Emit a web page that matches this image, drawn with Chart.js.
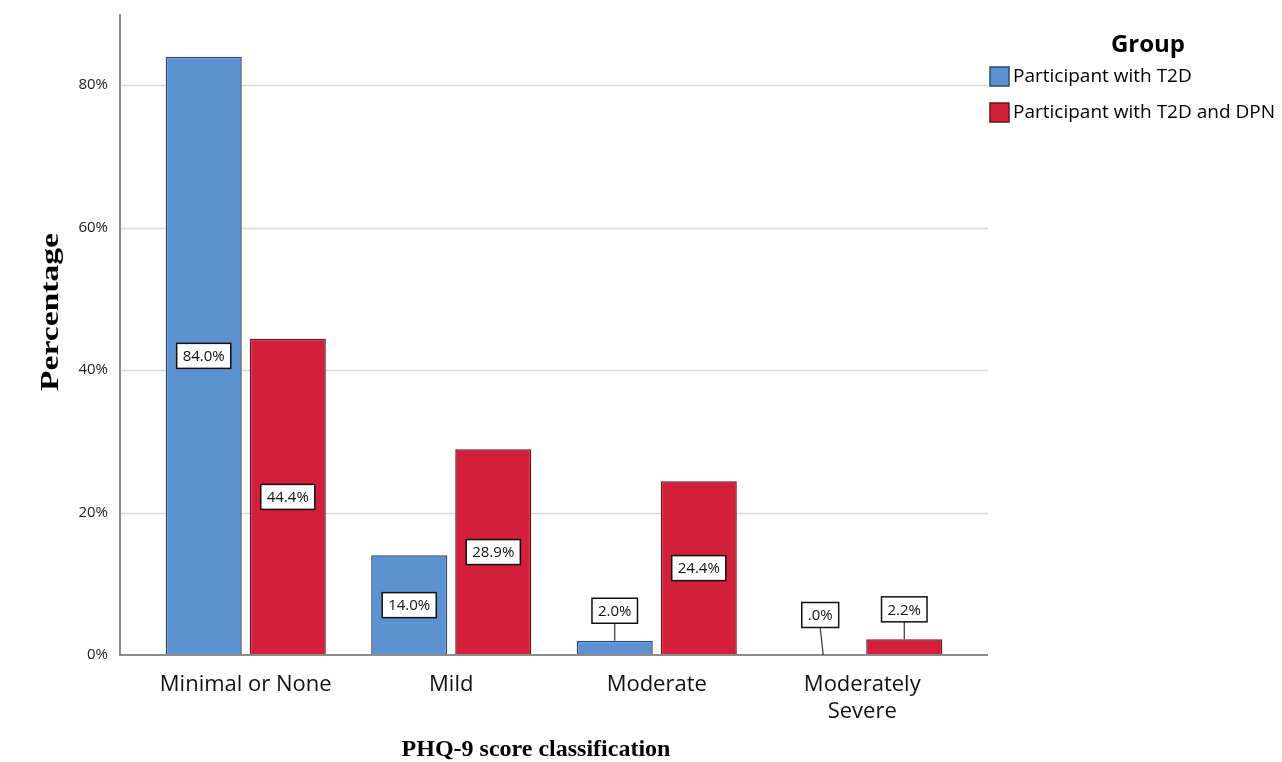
<!DOCTYPE html>
<html>
<head>
<meta charset="utf-8">
<script src="https://cdn.jsdelivr.net/npm/chart.js@4.4.1/dist/chart.umd.min.js"></script>
<style>
  html, body { margin: 0; padding: 0; background: #fff; }
  #wrap { width: 1282px; height: 762px; }
</style>
</head>
<body>
<div id="wrap"><canvas id="chart" width="1282" height="762"></canvas></div>
<script>
const categories = ['Minimal or None', 'Mild', 'Moderate', ['Moderately', 'Severe']];
const groupNames = ['Participant with T2D', 'Participant with T2D and DPN'];
const t2dValues = [84.0, 14.0, 2.0, 0.0];
const dpnValues = [44.4, 28.9, 24.4, 2.2];
const yTicks = [0, 20, 40, 60, 80];

const BLUE = '#5b92cf';
const BLUE_EDGE = '#2c4a70';
const RED = '#d31f3a';
const RED_EDGE = '#6e1222';
const AXIS = '#8c8c8c';
const GRID = '#d9d9d9';

function fmtPct(v) {
  let s = v.toFixed(1);
  if (s.startsWith('0')) s = s.slice(1);
  return s + '%';
}

// gridlines, axis lines, titles, legend and value boxes
const decor = {
  id: 'decor',
  beforeDatasetsDraw(chart) {
    const { ctx, scales: { y } } = chart;
    const x0 = 120, x1 = 988;
    ctx.save();
    ctx.strokeStyle = GRID;
    ctx.lineWidth = 1.5;
    yTicks.forEach(t => {
      if (t === 0) return;
      const py = Math.round(y.getPixelForValue(t)) + 0.5;
      ctx.beginPath();
      ctx.moveTo(x0, py);
      ctx.lineTo(x1, py);
      ctx.stroke();
    });
    ctx.restore();
  },
  afterDatasetsDraw(chart) {
    const { ctx, scales: { y } } = chart;
    const x0 = 120, x1 = 988;
    const base = y.getPixelForValue(0);
    ctx.save();
    ctx.strokeStyle = AXIS;
    ctx.lineWidth = 2;
    ctx.beginPath();
    ctx.moveTo(x0, y.getPixelForValue(y.max));
    ctx.lineTo(x0, base);
    ctx.lineTo(x1, base);
    ctx.stroke();

    // value boxes
    ctx.font = '15px "Open Sans", "Noto Sans", sans-serif';
    ctx.textAlign = 'center';
    ctx.textBaseline = 'middle';
    chart.data.datasets.forEach((ds, di) => {
      const meta = chart.getDatasetMeta(di);
      meta.data.forEach((bar, i) => {
        const txt = fmtPct(ds.data[i]);
        const w = ctx.measureText(txt).width + 12;
        const h = 25;
        const tall = (bar.base - bar.y) > 40;
        let cy, cx = bar.x;
        if (tall) {
          cy = (bar.y + bar.base) / 2;
        } else {
          cy = Math.min(bar.y - 30, base - 40);
          ctx.strokeStyle = '#333';
          ctx.lineWidth = 1.2;
          ctx.beginPath();
          ctx.moveTo(cx, cy + h / 2);
          ctx.lineTo(cx + (ds.data[i] === 0 ? 3 : 0), bar.y);
          ctx.stroke();
        }
        ctx.fillStyle = '#fff';
        ctx.fillRect(cx - w / 2, cy - h / 2, w, h);
        ctx.strokeStyle = '#111';
        ctx.lineWidth = 1.5;
        ctx.strokeRect(cx - w / 2, cy - h / 2, w, h);
        ctx.fillStyle = '#111';
        ctx.fillText(txt, cx, cy + 1);
      });
    });

    // axis titles
    ctx.fillStyle = '#000';
    ctx.textBaseline = 'alphabetic';
    ctx.font = 'bold 24px "Liberation Serif", "DejaVu Serif", serif';
    ctx.fillText('PHQ-9 score classification', 536, 756);
    ctx.textBaseline = 'middle';
    ctx.save();
    ctx.translate(51, 312);
    ctx.rotate(-Math.PI / 2);
    ctx.font = 'bold 26px "Liberation Serif", "DejaVu Serif", serif';
    const tw = ctx.measureText('Percentage').width;
    ctx.scale(158 / tw, 1);
    ctx.fillText('Percentage', 0, 0);
    ctx.restore();

    // legend
    ctx.font = 'bold 24px "Open Sans", "Noto Sans", sans-serif';
    ctx.fillText('Group', 1148, 45);
    ctx.textAlign = 'left';
    ctx.font = '19px "Open Sans", "Noto Sans", sans-serif';
    const fills = [BLUE, RED], edges = [BLUE_EDGE, RED_EDGE];
    [77, 113].forEach((cy, k) => {
      ctx.fillStyle = fills[k];
      ctx.fillRect(990, cy - 10, 19, 19);
      ctx.strokeStyle = edges[k];
      ctx.lineWidth = 1.5;
      ctx.strokeRect(990, cy - 10, 19, 19);
      ctx.fillStyle = '#000';
      ctx.fillText(groupNames[k], 1013, cy);
    });
    ctx.restore();
  }
};

new Chart(document.getElementById('chart'), {
  type: 'bar',
  data: {
    labels: categories,
    datasets: [
      {
        label: groupNames[0],
        data: t2dValues,
        backgroundColor: BLUE,
        borderColor: BLUE_EDGE,
        borderWidth: 1.5,
        categoryPercentage: 0.818,
        barPercentage: 0.905
      },
      {
        label: groupNames[1],
        data: dpnValues,
        backgroundColor: RED,
        borderColor: RED_EDGE,
        borderWidth: 1.5,
        categoryPercentage: 0.818,
        barPercentage: 0.905
      }
    ]
  },
  options: {
    responsive: false,
    animation: false,
    layout: { padding: { top: 14, right: 317, bottom: 0, left: 0 } },
    plugins: {
      legend: { display: false },
      tooltip: { enabled: false }
    },
    scales: {
      x: {
        grid: { display: false, drawTicks: false },
        border: { display: false },
        afterFit: s => { s.height = 107; },
        ticks: {
          color: '#111',
          padding: 17,
          maxRotation: 0,
          autoSkip: false,
          font: { family: '"Open Sans", "Noto Sans", sans-serif', size: 22 }
        }
      },
      y: {
        min: 0,
        max: 90,
        grid: { display: false, drawTicks: false },
        border: { display: false },
        afterFit: s => {
          s.width = 143;
          s.paddingTop = 0;
          s.paddingBottom = 0;
        },
        afterBuildTicks: s => { s.ticks = yTicks.map(v => ({ value: v })); },
        ticks: {
          color: '#222',
          padding: 35,
          font: { family: '"Open Sans", "Noto Sans", sans-serif', size: 15 },
          callback: v => v + '%'
        }
      }
    }
  },
  plugins: [decor]
});
</script>
</body>
</html>
